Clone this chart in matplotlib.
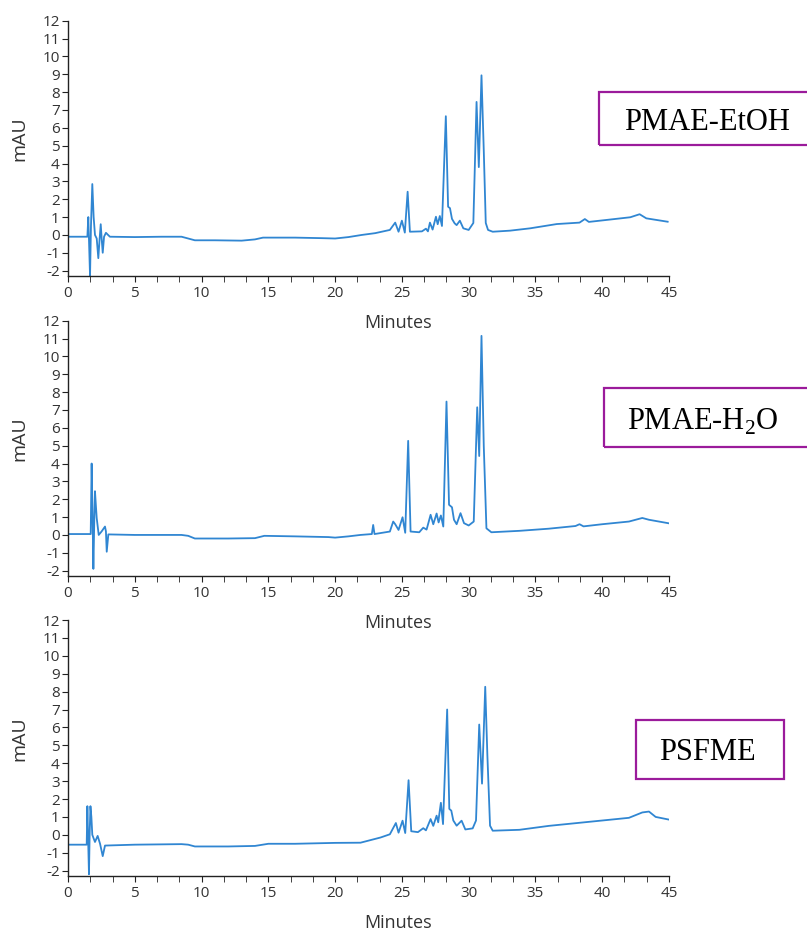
import numpy as np
import matplotlib
matplotlib.use('Agg')
import matplotlib.pyplot as plt
from matplotlib.patches import Rectangle
from matplotlib.ticker import MultipleLocator

# chromatogram traces (time in min, absorbance in mAU)
t_etoh = [0, 1.45, 1.52, 1.58, 1.65, 1.72, 1.82, 1.92, 2.02, 2.15, 2.27, 2.36, 2.45, 2.52, 2.6, 2.7,
          2.84, 3.0, 3.14, 5, 7, 8.5, 9.0, 9.5, 11, 13, 14, 14.6, 17, 19.0, 20, 21, 22, 23, 24.1,
          24.5, 24.75, 25.0, 25.22, 25.43, 25.6, 26.5, 26.8, 26.95, 27.1, 27.3, 27.55, 27.68, 27.84,
          28.0, 28.29, 28.46, 28.6, 28.75, 28.95, 29.1, 29.34, 29.6, 30.0, 30.35, 30.59, 30.76,
          30.96, 31.13, 31.28, 31.45, 31.8, 33.1, 34.6, 36.6, 38.3, 38.7, 39.0, 40.8, 42.1, 42.8,
          43.3, 44.9]
a_etoh = [-0.1, -0.1, 1.0, -0.5, -2.3, 0.5, 2.85, 1.0, 0.0, -0.2, -1.3, -0.3, 0.6, -0.2, -1.0, -0.1,
          0.12, 0.0, -0.1, -0.12, -0.1, -0.1, -0.2, -0.3, -0.3, -0.32, -0.25, -0.15, -0.15, -0.18,
          -0.2, -0.12, 0.0, 0.1, 0.28, 0.69, 0.18, 0.8, 0.13, 2.42, 0.18, 0.2, 0.35, 0.2, 0.69, 0.3,
          1.02, 0.6, 1.06, 0.5, 6.65, 1.58, 1.5, 0.9, 0.65, 0.55, 0.8, 0.37, 0.28, 0.67, 7.45, 3.8,
          8.94, 4.75, 0.67, 0.28, 0.18, 0.24, 0.37, 0.61, 0.69, 0.89, 0.73, 0.88, 0.99, 1.16, 0.93,
          0.74]

t_h2o = [0, 1.7, 1.77, 1.84, 1.9, 1.96, 2.02, 2.1, 2.15, 2.3, 2.52, 2.77, 2.84, 2.9, 3.02, 5, 8.5,
         9.0, 9.5, 12, 14, 14.7, 17, 19.5, 20, 21, 21.9, 22.75, 22.85, 22.95, 24.1, 24.35, 24.5,
         24.75, 25.05, 25.25, 25.47, 25.65, 26.3, 26.6, 26.85, 27.15, 27.35, 27.6, 27.75, 27.92,
         28.1, 28.34, 28.53, 28.75, 28.9, 29.1, 29.39, 29.65, 30.0, 30.38, 30.64, 30.79, 30.96,
         31.13, 31.33, 31.7, 33.8, 36, 38.0, 38.3, 38.6, 40, 42, 43.0, 43.5, 45]
a_h2o = [0.05, 0.05, 4.0, 1.0, -1.9, 0.5, 2.45, 1.5, 0.94, 0.0, 0.2, 0.47, 0.2, -0.94, 0.03, 0.0,
         0.0, -0.05, -0.2, -0.2, -0.18, -0.05, -0.08, -0.12, -0.15, -0.08, 0.0, 0.05, 0.56, 0.05,
         0.19, 0.75, 0.6, 0.28, 0.99, 0.12, 5.27, 0.19, 0.15, 0.41, 0.3, 1.13, 0.6, 1.2, 0.7, 1.09,
         0.47, 7.47, 1.69, 1.55, 0.85, 0.6, 1.22, 0.66, 0.53, 0.75, 7.15, 4.42, 11.15, 5.0, 0.37,
         0.15, 0.23, 0.35, 0.5, 0.6, 0.48, 0.6, 0.75, 0.95, 0.85, 0.65]

t_sfme = [0, 1.4, 1.45, 1.5, 1.57, 1.62, 1.68, 1.75, 1.82, 2.02, 2.22, 2.4, 2.6, 2.77, 5, 8.5, 9.0,
          9.5, 12, 14, 15, 17, 20, 21.9, 23.4, 24.1, 24.55, 24.75, 25.05, 25.25, 25.5, 25.7, 26.2,
          26.6, 26.8, 27.15, 27.35, 27.6, 27.72, 27.92, 28.08, 28.39, 28.55, 28.7, 28.85, 29.1,
          29.47, 29.75, 30.3, 30.55, 30.79, 31.0, 31.24, 31.4, 31.6, 31.8, 33.8, 36, 38, 40, 42,
          43.0, 43.5, 44.0, 45]
a_sfme = [-0.55, -0.55, 1.6, 0.0, -2.2, 0.0, 1.6, 1.0, 0.0, -0.4, -0.06, -0.5, -1.19, -0.6, -0.55,
          -0.52, -0.55, -0.65, -0.65, -0.62, -0.5, -0.5, -0.45, -0.44, -0.15, 0.03, 0.66, 0.12,
          0.79, 0.1, 3.05, 0.2, 0.15, 0.37, 0.25, 0.88, 0.5, 1.07, 0.7, 1.79, 0.6, 7.0, 1.45, 1.35,
          0.8, 0.51, 0.79, 0.3, 0.36, 0.8, 6.16, 2.86, 8.27, 4.46, 0.51, 0.23, 0.28, 0.5, 0.65,
          0.8, 0.95, 1.25, 1.3, 1.0, 0.85]

traces = [(t_etoh, a_etoh), (t_h2o, a_h2o), (t_sfme, a_sfme)]
labels = ['PMAE-EtOH', r'PMAE-H$_\mathregular{2}$O', 'PSFME']

W, H = 807, 931
# panel placement in pixels: left, right, top, bottom
panels = [(68, 669, 20.7, 276), (68, 669, 320.7, 576), (68, 669, 620, 876)]
# label boxes in pixels: x0, y0, x1, y1 and text centre x, baseline y
boxes = [(599, 92, 830, 145, 707, 130),
         (604, 388, 830, 447, 703, 430),
         (636, 720, 784, 779, 707, 760)]

line_col = '#3086d2'
box_col = '#9b1b9b'
tick_col = '#333333'

plt.rcParams['font.family'] = ['Open Sans', 'DejaVu Sans']
plt.rcParams['axes.unicode_minus'] = False
plt.rcParams['mathtext.fontset'] = 'custom'
plt.rcParams['mathtext.rm'] = 'Liberation Serif'

fig = plt.figure(figsize=(W / 100., H / 100.), dpi=100)
fig.patch.set_facecolor('w')

for ii, (tt, aa) in enumerate(traces):
    l, r, t, b = panels[ii]
    sp = fig.add_axes([l / W, 1 - b / H, (r - l) / W, (b - t) / H])
    sp.patch.set_visible(False)
    sp.plot(tt, aa, '-', color=line_col, lw=1.3)
    sp.set_xlim(0, 45)
    sp.set_ylim(-2.3, 12)
    sp.spines['top'].set_visible(False)
    sp.spines['right'].set_visible(False)
    for s in ['left', 'bottom']:
        sp.spines[s].set_linewidth(1.0)
        sp.spines[s].set_color('#222222')
    sp.xaxis.set_major_locator(MultipleLocator(5))
    sp.xaxis.set_minor_locator(MultipleLocator(5 / 3.))
    sp.yaxis.set_major_locator(MultipleLocator(1))
    sp.tick_params(axis='both', which='both', direction='out', color='#222222',
                   labelcolor=tick_col, labelsize=11)
    sp.tick_params(axis='x', which='both', length=4, pad=3)
    sp.tick_params(axis='y', length=4, pad=2)
    sp.set_xlabel('Minutes', fontsize=13, color=tick_col)
    sp.xaxis.set_label_coords(0.55, -0.15)
    sp.set_ylabel('mAU', fontsize=14, color=tick_col)
    sp.yaxis.set_label_coords(-0.066, 0.537)

    x0, y0, x1, y1, xt, yt = boxes[ii]
    fig.add_artist(Rectangle((x0 / W, 1 - y1 / H), (x1 - x0) / W, (y1 - y0) / H,
                             transform=fig.transFigure, fill=False, ec=box_col, lw=1.6))
    fig.text(xt / W, 1 - yt / H, labels[ii], ha='center', va='baseline',
             family='Liberation Serif', fontsize=22, color='k')

fig.savefig('out.png', dpi=100)
